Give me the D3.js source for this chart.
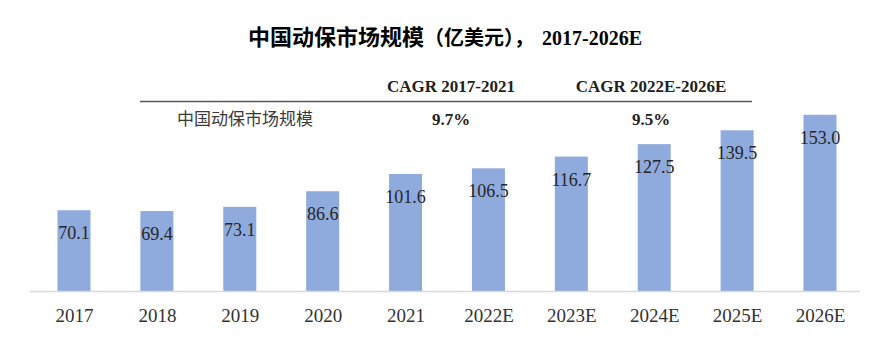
<!DOCTYPE html>
<html>
<head>
<meta charset="utf-8">
<script src="https://cdn.jsdelivr.net/npm/d3@7"></script>
<style>
  html, body { margin: 0; padding: 0; background: #fff; }
  svg { display: block; }
</style>
</head>
<body>
<svg id="chart" width="890" height="360"></svg>
<script>
const categories = ["2017", "2018", "2019", "2020", "2021", "2022E", "2023E", "2024E", "2025E", "2026E"];
const values = [70.1, 69.4, 73.1, 86.6, 101.6, 106.5, 116.7, 127.5, 139.5, 153.0];
const titleParts = ["中国动保市场规模", "（亿美元），", "2017-2026E"];
const tableHeaders = ["CAGR 2017-2021", "CAGR 2022E-2026E"];
const tableRowLabel = "中国动保市场规模";
const tableRowValues = ["9.7%", "9.5%"];

const svg = d3.select("#chart");
const serif = "'Liberation Serif', 'Times New Roman', serif";
const cjk = "'Noto Sans CJK SC', sans-serif";

const x = d3.scalePoint().domain(categories).range([74, 820]);
const y = d3.scaleLinear().domain([0, 160]).range([291, 291 - 184.3]);
const barW = 33;

// Title
const titleX = [248, 424, 542];
const titleFont = [cjk, cjk, serif];
const titleSize = [22, 20, 20];
svg.selectAll("text.title").data(titleParts).enter().append("text")
  .attr("class", "title")
  .attr("x", (d, i) => titleX[i]).attr("y", 45)
  .attr("font-family", (d, i) => titleFont[i])
  .attr("font-size", (d, i) => titleSize[i])
  .attr("font-weight", "bold")
  .attr("fill", "#000")
  .text(d => d);

// Table
const colX = [451, 651];
svg.selectAll("text.hdr").data(tableHeaders).enter().append("text")
  .attr("class", "hdr")
  .attr("x", (d, i) => colX[i]).attr("y", 91.5)
  .attr("text-anchor", "middle")
  .attr("font-family", serif).attr("font-weight", "bold").attr("font-size", 17)
  .attr("fill", "#222")
  .text(d => d);
svg.append("line")
  .attr("x1", 140).attr("x2", 752).attr("y1", 101.5).attr("y2", 101.5)
  .attr("stroke", "#555").attr("stroke-width", 1.6);
svg.append("text")
  .attr("x", 245).attr("y", 125)
  .attr("text-anchor", "middle")
  .attr("font-family", cjk).attr("font-size", 17)
  .attr("fill", "#3a3a3a")
  .text(tableRowLabel);
svg.selectAll("text.rowv").data(tableRowValues).enter().append("text")
  .attr("class", "rowv")
  .attr("x", (d, i) => colX[i]).attr("y", 125)
  .attr("text-anchor", "middle")
  .attr("font-family", serif).attr("font-weight", "bold").attr("font-size", 17)
  .attr("fill", "#222")
  .text(d => d);

// Bars
svg.selectAll("rect.bar").data(values).enter().append("rect")
  .attr("class", "bar")
  .attr("x", (d, i) => x(categories[i]) - barW / 2)
  .attr("width", barW)
  .attr("y", d => y(d))
  .attr("height", d => y(0) - y(d))
  .attr("fill", "#8faadc");

// Baseline
svg.append("line")
  .attr("x1", 30).attr("x2", 860).attr("y1", y(0) + 0.5).attr("y2", y(0) + 0.5)
  .attr("stroke", "#d9d9d9").attr("stroke-width", 1.5);

// Value labels
svg.selectAll("text.val").data(values).enter().append("text")
  .attr("class", "val")
  .attr("x", (d, i) => x(categories[i]))
  .attr("y", d => y(d) + 29)
  .attr("text-anchor", "middle")
  .attr("font-family", serif).attr("font-size", 18)
  .attr("fill", "#262626")
  .text(d => d.toFixed(1));

// X axis labels
const xAxis = d3.axisBottom(x).tickSize(0).tickPadding(0);
const gx = svg.append("g").attr("transform", `translate(0, ${y(0)})`).call(xAxis);
gx.select(".domain").remove();
gx.selectAll("text")
  .attr("dy", null)
  .attr("y", 31)
  .attr("font-family", serif).attr("font-size", 19)
  .attr("fill", "#333");
</script>
</body>
</html>
